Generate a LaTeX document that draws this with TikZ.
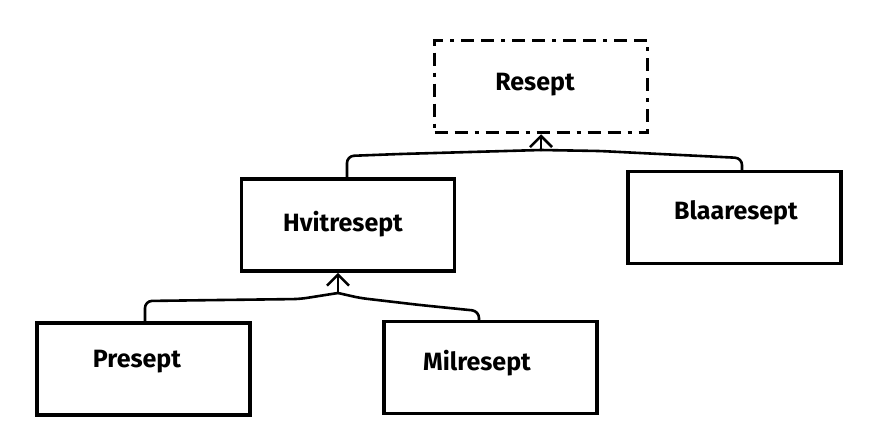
\documentclass[tikz,border=0pt]{standalone}
\usepackage{fontspec}
\setmainfont{Fira Sans}
\usetikzlibrary{arrows.meta}
\begin{document}
\begin{tikzpicture}[x=1pt,y=-1pt,
  box/.style={draw=black,line width=3.5pt,minimum width=213pt,minimum height=92pt,inner sep=0pt},
  dashbox/.style={box,dash pattern=on 13pt off 7pt on 13pt off 7pt on 4pt off 7pt},
  lbl/.style={font=\fontsize{25}{28}\selectfont\bfseries,inner sep=0pt},
  conn/.style={line width=2.6pt,line cap=round,line join=round,rounded corners=7pt},
  arr/.style={line width=2.6pt,line cap=round,-{Straight Barb[length=11pt,width=22pt,line width=2.6pt]}}]
\useasboundingbox (0,0) rectangle (873,437);
\fill[white] (0,0) rectangle (873,437);
% boxes
\node[dashbox] (resept) at (541,86.5) {};
\node[box] (hvit) at (348,225) {};
\node[box] (blaa) at (734.5,217.5) {};
\node[box] (pres) at (143.5,369) {};
\node[box] (mil) at (490.5,367.5) {};
% labels
\node[lbl] (tresept) at (535,85) {Resept};
\node[lbl] (thvit) at (343,224) {Hvitresept};
\node[lbl] (tblaa) at (736,213) {Blaaresept};
\node[lbl] (tpres) at (137,362) {Presept};
\node[lbl] (tmil) at (477,363) {Milresept};
% upper connectors
\coordinate (j1) at (541,150);
\coordinate (h1) at (347,0);
\coordinate (b1) at (742,0);
\draw[conn] (hvit.north -| h1) -- (347,156) -- (400,154) -- (470,152) -- (j1);
\draw[conn] (blaa.north -| b1) -- (742,158) -- (660,154) -- (600,151) -- (j1);
\draw[arr] (j1) -- (resept.south -| j1);
% lower connectors
\coordinate (j2) at (338,293);
\coordinate (p1) at (145,0);
\coordinate (m1) at (479,0);
\draw[conn] (pres.north -| p1) -- (145,301) -- (220,300) -- (300,299) -- (j2);
\draw[conn] (mil.north -| m1) -- (479,311) -- (420,305) -- (360,298) -- (j2);
\draw[arr] (j2) -- (hvit.south -| j2);
\end{tikzpicture}
\end{document}
